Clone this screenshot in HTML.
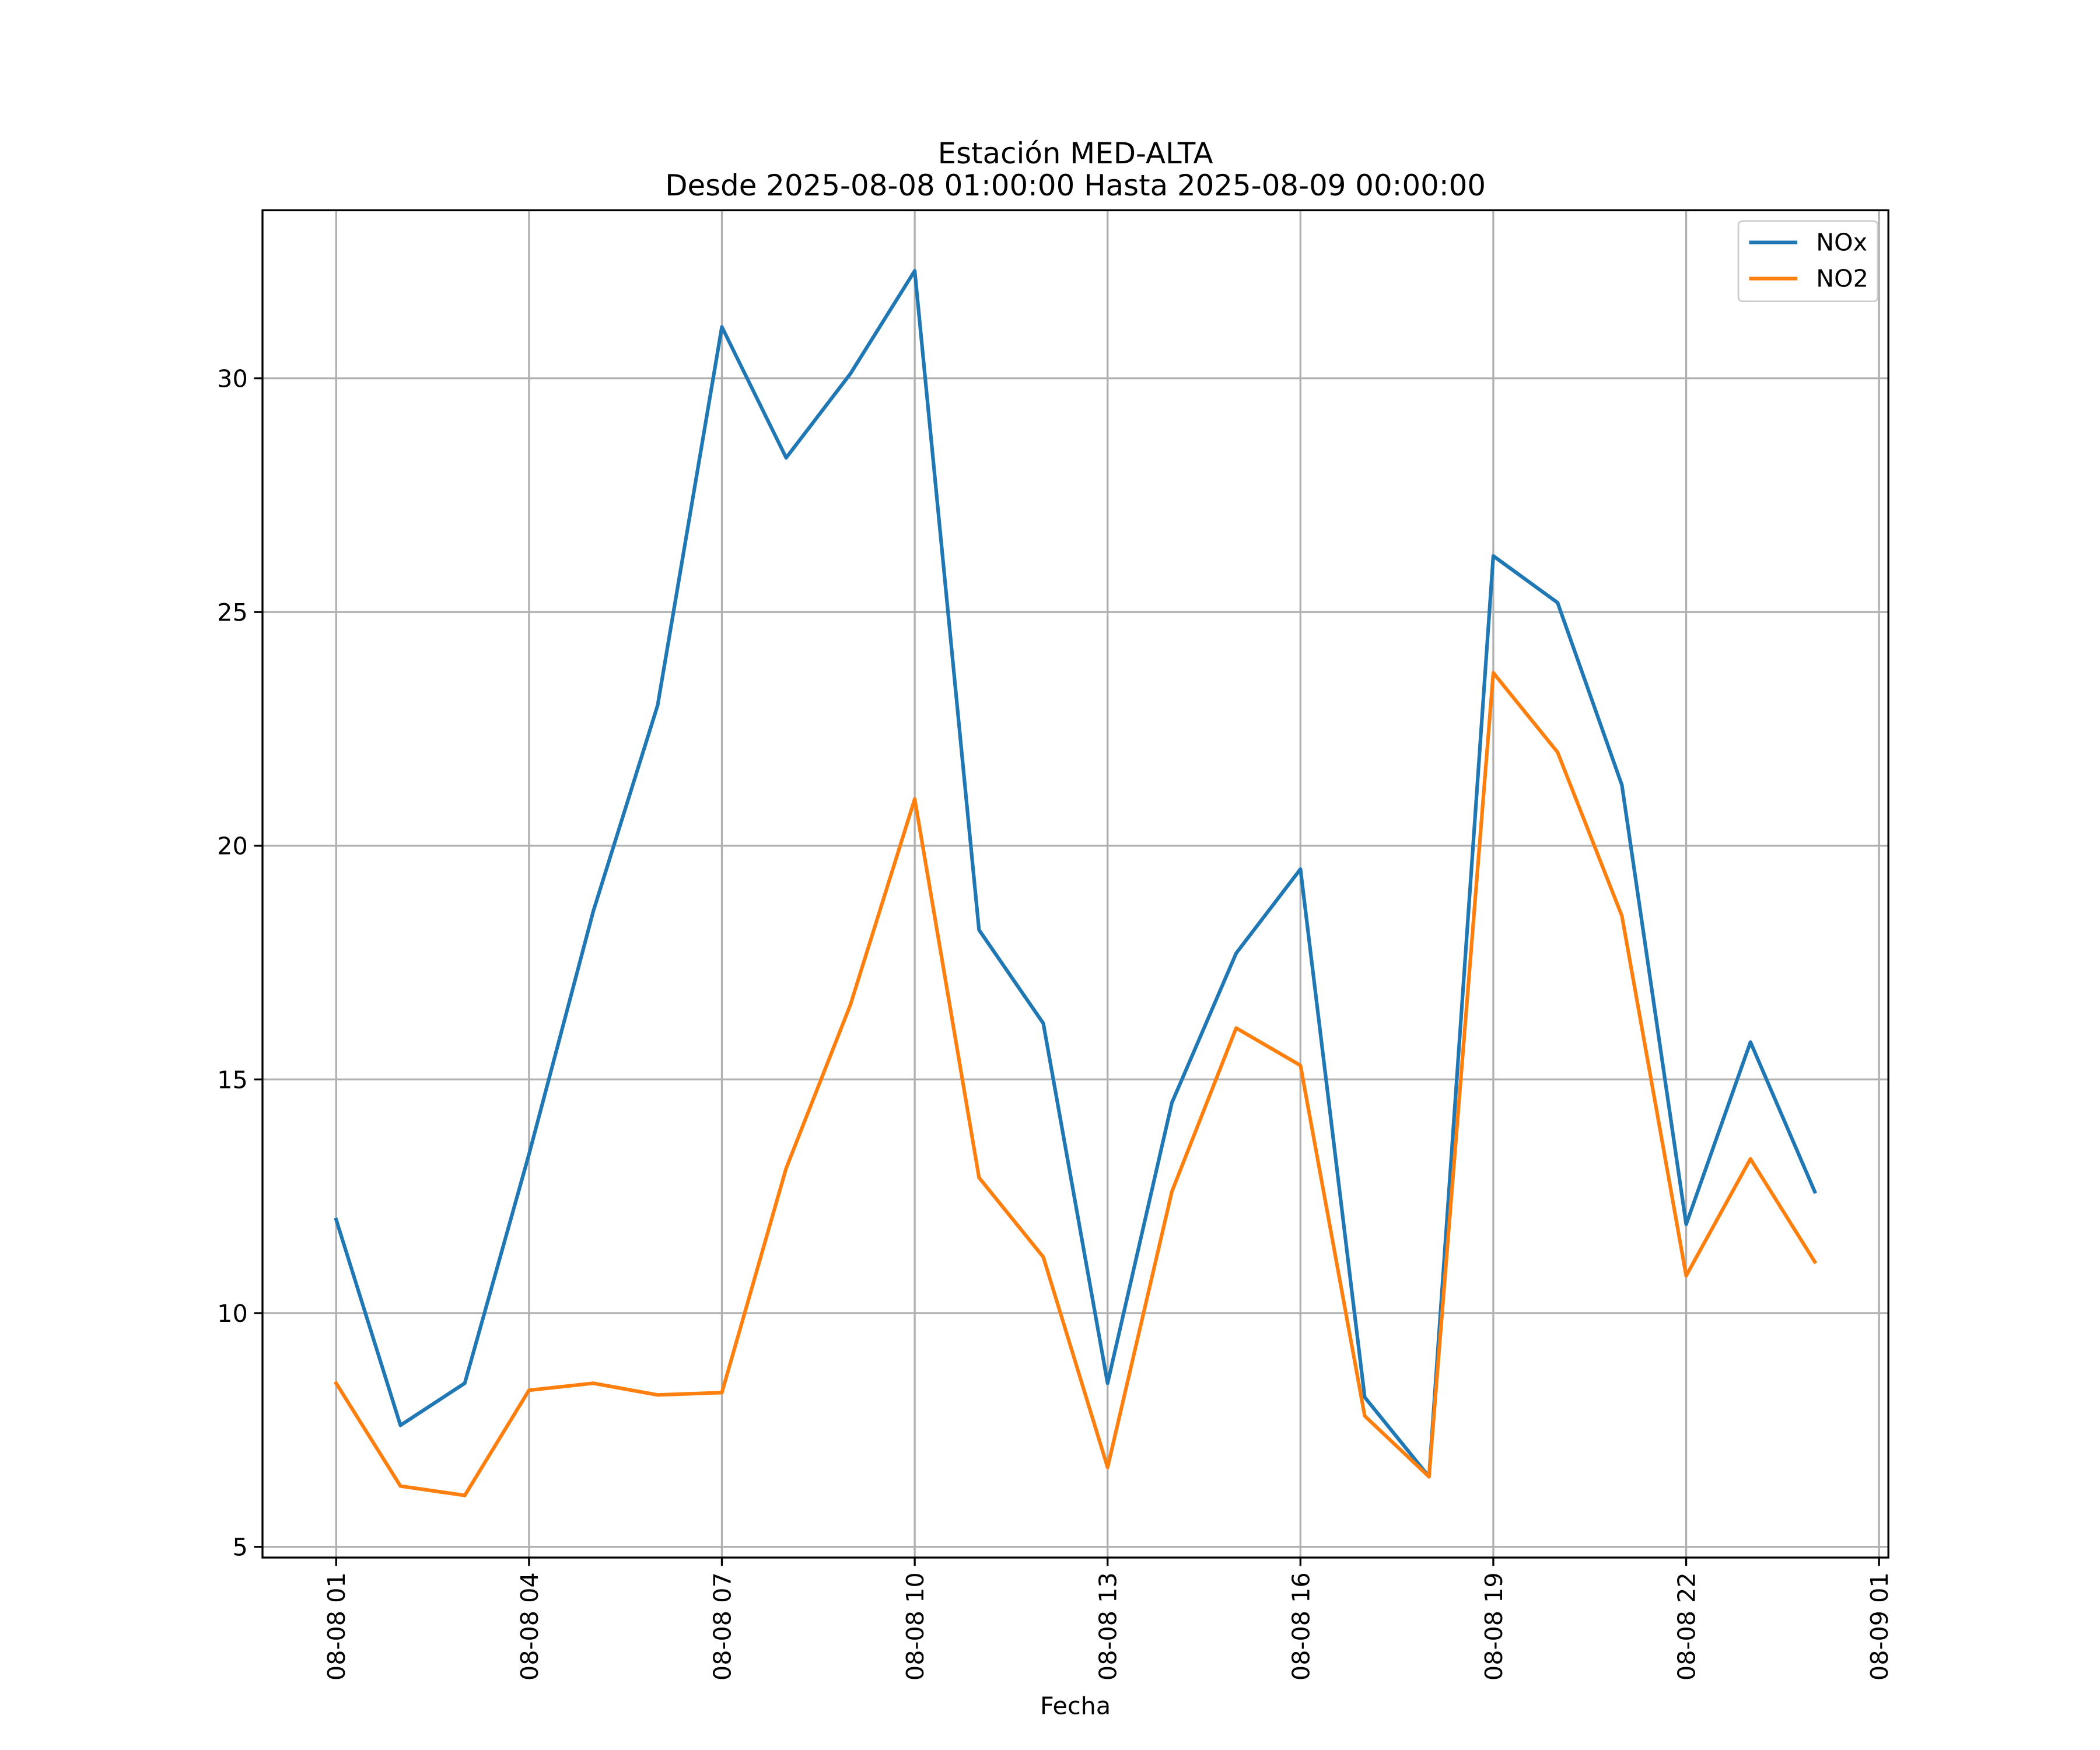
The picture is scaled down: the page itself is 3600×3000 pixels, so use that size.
<!DOCTYPE html>
<html><head><meta charset="utf-8"><style>
html,body{margin:0;padding:0;background:#fff}
svg{display:block}
text{font-family:"DejaVu Sans","Liberation Sans",sans-serif;fill:#000}
</style></head><body>
<svg id="chart" width="3600" height="3000" viewBox="0 0 1568 1306.7" preserveAspectRatio="none" xmlns="http://www.w3.org/2000/svg">
<rect width="1568" height="1307" fill="#fff"/>
<text x="803" y="122" font-size="21.7" text-anchor="middle">Estación MED-ALTA</text>
<text x="803" y="146" font-size="21.7" text-anchor="middle">Desde 2025-08-08 01:00:00 Hasta 2025-08-09 00:00:00</text>
<g id="grid"></g><g id="lines"></g><g id="axes"></g>
<text x="803" y="1280" font-size="18" text-anchor="middle">Fecha</text>
<g>
<rect x="1298" y="165" width="104" height="60" rx="3" fill="#fff" stroke="#ccc" stroke-width="1.2"/>
<line x1="1306" y1="181" x2="1342" y2="181" stroke="#1f77b4" stroke-width="2.7"/>
<text x="1356" y="187" font-size="18">NOx</text>
<line x1="1306" y1="208" x2="1342" y2="208" stroke="#ff7f0e" stroke-width="2.7"/>
<text x="1356" y="214" font-size="18">NO2</text>
</g>
</svg>
<script>
const hours=[1,2,3,4,5,6,7,8,9,10,11,12,13,14,15,16,17,18,19,20,21,22,23,24];
const noxValues=[12.0,7.6,8.5,13.4,18.6,23.0,31.1,28.3,30.1,32.3,18.2,16.2,8.5,14.5,17.7,19.5,8.2,6.5,26.2,25.2,21.3,11.9,15.8,12.6];
const no2Values=[8.5,6.3,6.1,8.35,8.5,8.25,8.3,13.1,16.6,21.0,12.9,11.2,6.7,12.6,16.1,15.3,7.8,6.5,23.7,22.0,18.5,10.8,13.3,11.1];
const yTicks=[5,10,15,20,25,30];
const xTickHours=[1,4,7,10,13,16,19,22,25];
const xTickLabels=["08-08 01","08-08 04","08-08 07","08-08 10","08-08 13","08-08 16","08-08 19","08-08 22","08-09 01"];
const L=196,R=1410,T=157,B=1163;
const xs=h=>251+(h-1)*48;
const ys=v=>1155-(v-5)*34.9;
const NS="http://www.w3.org/2000/svg";
function mk(tag,attrs,parent){const e=document.createElementNS(NS,tag);for(const k in attrs)e.setAttribute(k,attrs[k]);parent.appendChild(e);return e;}
const grid=document.getElementById('grid'),lines=document.getElementById('lines'),axes=document.getElementById('axes');
xTickHours.forEach((h,i)=>{
  const x=xs(h);
  const g=mk('line',{x1:x,x2:x,y1:T,y2:B,stroke:'#b0b0b0','stroke-width':1.45},grid);
  
  
  mk('line',{x1:x,x2:x,y1:B,y2:B+6.3,stroke:'#000','stroke-width':1.45},axes);
  const t=mk('text',{x:0,y:0,'font-size':18,'text-anchor':'end',transform:`translate(${x+6.5},${B+11}) rotate(-90)`},axes);
  t.textContent=xTickLabels[i];
  
  
});
yTicks.forEach(v=>{
  const y=ys(v);
  const g=mk('line',{x1:L,x2:R,y1:y,y2:y,stroke:'#b0b0b0','stroke-width':1.45},grid);
  
  
  mk('line',{x1:L-6.3,x2:L,y1:y,y2:y,stroke:'#000','stroke-width':1.45},axes);
  const t=mk('text',{x:L-11,y:y+6.5,'font-size':18,'text-anchor':'end'},axes);
  t.textContent=v;
  
  
});
const frame=mk('rect',{x:L,y:T,width:R-L,height:B-T,fill:'none',stroke:'#000','stroke-width':1.45},axes);


function series(vals,color,name){
  const p=mk('polyline',{points:vals.map((v,i)=>xs(hours[i])+','+ys(v)).join(' '),fill:'none',stroke:color,'stroke-width':2.7,'stroke-linejoin':'round','stroke-linecap':'square'},lines);
  
  
}
series(noxValues,'#1f77b4','nox-line');
series(no2Values,'#ff7f0e','no2-line');
</script>
</body></html>
